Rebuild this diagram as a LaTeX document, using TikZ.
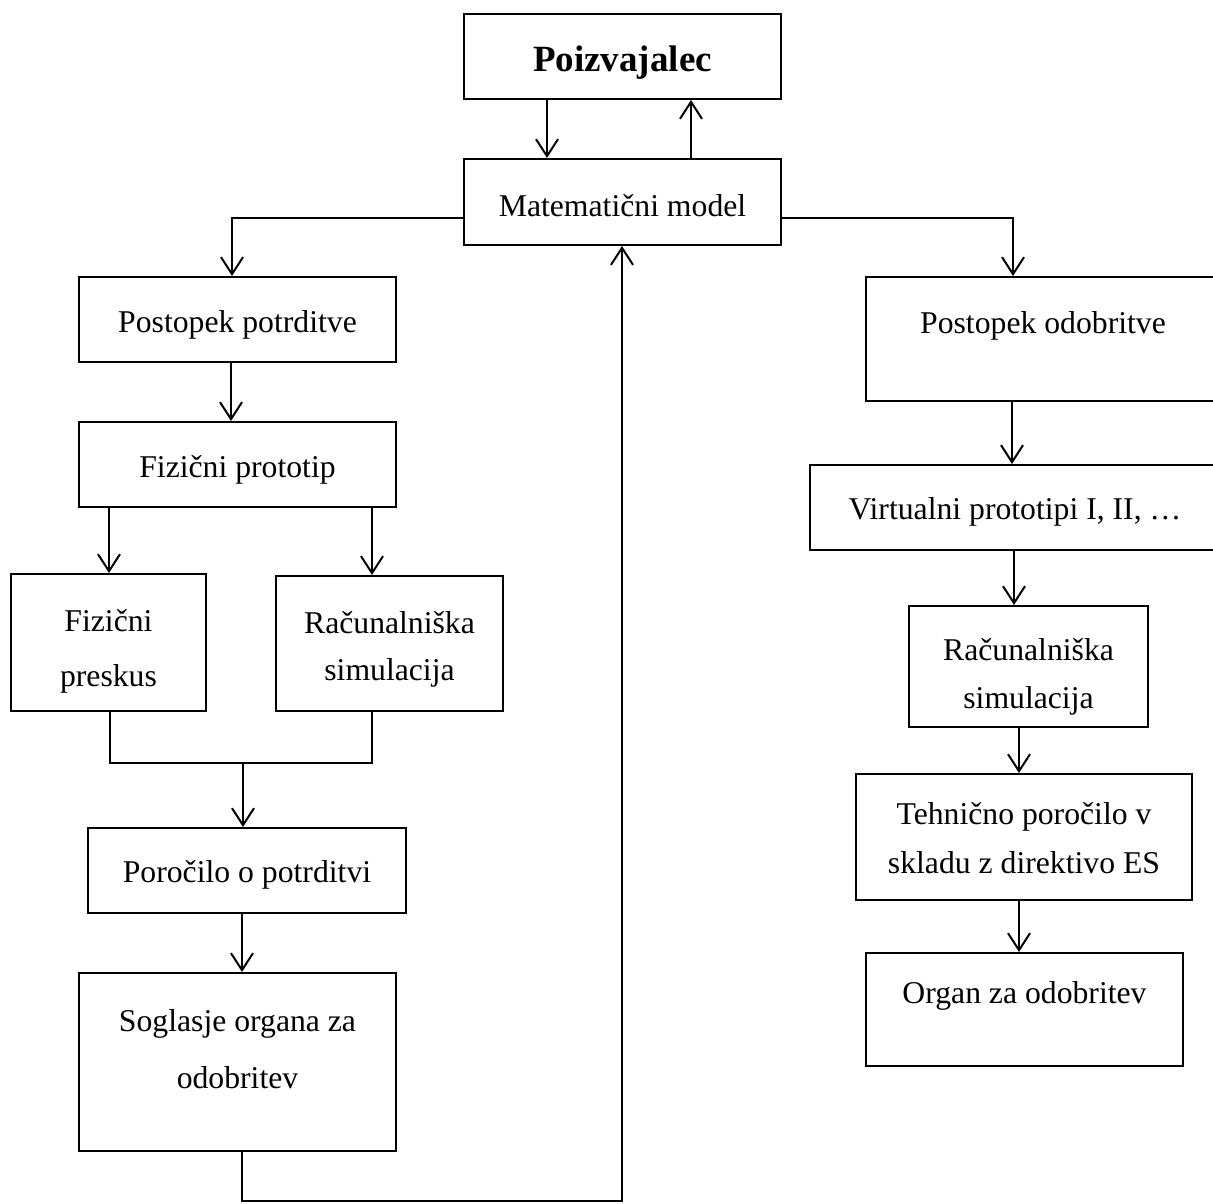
\documentclass[tikz,border=0pt]{standalone}
\usepackage{fontspec}
\setmainfont{Liberation Serif}
\usetikzlibrary{arrows.meta}
\begin{document}
\begin{tikzpicture}[x=0.5pt,y=-0.5pt,
  box/.style={draw,line width=1pt,rectangle,inner sep=0pt},
  arr/.style={line width=1pt,-{Straight Barb[length=8.5pt,width=11pt,line width=1pt]}},
  lnk/.style={line width=1pt},
  fnt/.style={font=\fontsize{15.85}{#1}\selectfont},
  fnt/.default=24,
  txt/.style={inner sep=0pt,align=center}]
\useasboundingbox (0,0) rectangle (1213,1203);

% boxes
\node[box,minimum width=158.5pt,minimum height=42.5pt] (poiz) at (622.5,56.5) {};
\node[txt,font=\fontsize{18.5}{22}\selectfont\bfseries] (poiztxt) at (622.5,63) {Poizvajalec};
\node[box,minimum width=158.5pt,minimum height=43pt] (mat) at (622.5,202) {};
\node[txt,fnt] (mattxt) at (622.5,206) {Matematični model};
\node[box,minimum width=158.5pt,minimum height=42.5pt] (postpot) at (237.5,319.5) {};
\node[txt,fnt] (postpottxt) at (237.5,325) {Postopek potrditve};
\node[box,minimum width=158.5pt,minimum height=42.5pt] (fizproto) at (237.5,464.5) {};
\node[txt,fnt] (fizprototxt) at (237.5,470) {Fizični prototip};
\node[box,minimum width=97.5pt,minimum height=68.5pt] (fizpre) at (108.5,642.5) {};
\node[txt,fnt=27.5] (fizpretxt) at (108.5,651) {Fizični\\preskus};
\node[box,minimum width=113.5pt,minimum height=67.5pt] (racL) at (389.5,643.5) {};
\node[txt,fnt=23.5] (racLtxt) at (389.5,649.5) {Računalniška\\simulacija};
\node[box,minimum width=159pt,minimum height=42.5pt] (poro) at (247,870.5) {};
\node[txt,fnt] (porotxt) at (247,875) {Poročilo o potrditvi};
\node[box,minimum width=158.5pt,minimum height=89pt] (sogl) at (237.5,1062) {};
\node[txt,fnt=28.5] (sogltxt) at (237.5,1049) {Soglasje organa za\\odobritev};

\node[box,minimum width=177pt,minimum height=62pt] (postodo) at (1043,339) {};
\node[txt,fnt] (postodotxt) at (1043,326) {Postopek odobritve};
\node[box,minimum width=205pt,minimum height=42.5pt] (virt) at (1015,507.5) {};
\node[txt,fnt] (virttxt) at (1015,512) {Virtualni prototipi I, II, …};
\node[box,minimum width=119.5pt,minimum height=60.5pt] (racR) at (1028.5,666.5) {};
\node[txt,fnt=24] (racRtxt) at (1028.5,677) {Računalniška\\simulacija};
\node[box,minimum width=168pt,minimum height=63pt] (tehn) at (1024,837) {};
\node[txt,fnt=24.5] (tehntxt) at (1024,838) {Tehnično poročilo v\\skladu z direktivo ES};
\node[box,minimum width=158.5pt,minimum height=56.5pt] (organ) at (1024.5,1009.5) {};
\node[txt,fnt] (organtxt) at (1024.5,996) {Organ za odobritev};

% connectors
\draw[arr] (poiz.south -| 547,0) -- (mat.north -| 547,0);
\draw[arr] (mat.north -| 691,0) -- (poiz.south -| 691,0);
\draw[arr] (mat.west |- 0,218) -| (postpot.north -| 232,0);
\draw[arr] (mat.east |- 0,218) -| (postodo.north -| 1013,0);
\draw[arr] (postpot.south -| 231,0) -- (fizproto.north -| 231,0);
\draw[arr] (fizproto.south -| 109,0) -- (fizpre.north -| 109,0);
\draw[arr] (fizproto.south -| 372,0) -- (racL.north -| 372,0);
\coordinate (join) at (243,763);
\draw[lnk] (fizpre.south -| 110,0) |- (372,763) -- (racL.south -| 372,0);
\draw[arr] (join) -- (poro.north -| join);
\draw[arr] (poro.south -| 242,0) -- (sogl.north -| 242,0);
\draw[arr] (sogl.south -| 242,0) |- (622,1201) -- (mat.south -| 622,0);

\draw[arr] (postodo.south -| 1012,0) -- (virt.north -| 1012,0);
\draw[arr] (virt.south -| 1014,0) -- (racR.north -| 1014,0);
\draw[arr] (racR.south -| 1019,0) -- (tehn.north -| 1019,0);
\draw[arr] (tehn.south -| 1019,0) -- (organ.north -| 1019,0);
\end{tikzpicture}
\end{document}
